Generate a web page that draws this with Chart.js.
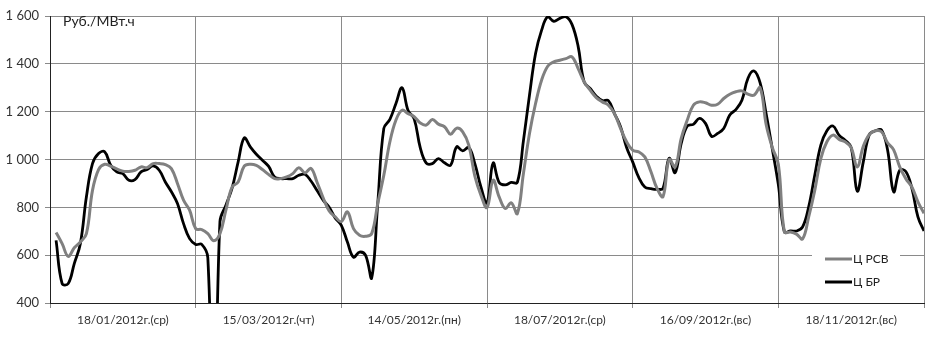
<!DOCTYPE html>
<html lang="ru">
<head>
  <meta charset="UTF-8">
  <title>Цены РСВ и БР</title>
  <script src="https://cdn.jsdelivr.net/npm/chart.js"></script>
  <style>
    html, body {
      margin: 0;
      padding: 0;
      background: #fff;
    }

    .wrap {
      width: 929px;
      height: 341px;
    }
  </style>
</head>
<body>
  <div class="wrap">
    <canvas id="priceChart" width="929" height="341"></canvas>
  </div>

  <script>
    // подписи дней (по 24 часа на день)
    const days = ["18/01/2012г.(ср)", "15/03/2012г.(чт)", "14/05/2012г.(пн)", "18/07/2012г.(ср)", "16/09/2012г.(вс)", "18/11/2012г.(вс)"];
    const hoursPerDay = 24;

    // Ц РСВ, руб./МВт.ч
    const rsv = [
      695, 648, 595, 631, 655, 690, 871, 958, 980, 972, 961, 951, 950, 955, 969, 966, 983, 983, 979, 962, 900, 830, 788, 711,
      707, 690, 660, 690, 790, 885, 906, 972, 980, 975, 958, 938, 920, 920, 927, 941, 966, 944, 963, 905, 840, 785, 760, 740,
      781, 711, 683, 679, 690, 816, 934, 1074, 1165, 1206, 1192, 1179, 1153, 1144, 1167, 1148, 1137, 1106, 1131, 1116, 1060, 930, 851, 799,
      913, 844, 795, 819, 774, 941, 1109, 1234, 1332, 1390, 1408, 1415, 1422, 1429, 1381, 1325, 1290, 1259, 1241, 1227, 1192, 1130, 1074, 1039,
      1032, 1011, 950, 880, 845, 1000, 969, 1088, 1165, 1227, 1241, 1237, 1227, 1231, 1255, 1273, 1283, 1287, 1273, 1269, 1300, 1145, 1050, 980,
      697, 697, 688, 668, 760, 871, 1004, 1074, 1102, 1084, 1074, 1050, 969, 1055, 1105, 1120, 1116, 1070, 1040, 969, 920, 885, 823, 775
    ];

    // Ц БР, руб./МВт.ч
    const br = [
      662, 481, 481, 565, 648, 844, 983, 1025, 1032, 976, 948, 941, 913, 916, 948, 958, 973, 955, 906, 865, 816, 732, 669, 645,
      645, 590, -300, 740, 810, 880, 990, 1090, 1053, 1022, 997, 972, 927, 920, 920, 920, 934, 938, 910, 870, 830, 800, 755, 725,
      655, 592, 613, 599, 505, 816, 1130, 1168, 1234, 1300, 1205, 1170, 1050, 985, 983, 1004, 986, 976, 1053, 1036, 1050, 983, 885, 818,
      985, 904, 894, 904, 904, 1078, 1269, 1443, 1541, 1597, 1578, 1590, 1597, 1565, 1475, 1325, 1297, 1265, 1246, 1246, 1192, 1137, 1050, 990,
      925, 885, 878, 875, 880, 1005, 945, 1067, 1140, 1147, 1172, 1151, 1097, 1109, 1130, 1186, 1209, 1248, 1340, 1370, 1320, 1190, 1045, 895,
      697, 701, 701, 718, 802, 934, 1060, 1120, 1140, 1102, 1081, 1050, 868, 990, 1105, 1120, 1123, 1040, 865, 955, 950, 880, 760, 701
    ];

    const yTicks = [400, 600, 800, 1000, 1200, 1400, 1600];
    const unitLabel = "Руб./МВт.ч";
    const seriesNames = ["Ц РСВ", "Ц БР"];

    const toPoints = arr => arr.map((v, i) => ({ x: i + 1, y: v }));
    const fontFamily = "Lato, 'Liberation Sans', sans-serif";

    // подпись единиц и легенда внутри области графика
    const overlay = {
      id: "overlay",
      afterDraw(chart) {
        const c = chart.ctx;
        const area = chart.chartArea;
        c.save();
        c.fillStyle = "#222";
        c.font = "14px " + fontFamily;
        c.textBaseline = "middle";
        c.fillText(unitLabel, area.left + 13, 21);

        c.fillStyle = "#fff";
        c.fillRect(812, 247, 88, 46);
        c.font = "12px " + fontFamily;
        chart.data.datasets.forEach((ds, i) => {
          const y = 259 + i * 23;
          c.strokeStyle = ds.borderColor;
          c.lineWidth = 3;
          c.beginPath();
          c.moveTo(825, y);
          c.lineTo(852, y);
          c.stroke();
          c.fillStyle = "#222";
          c.fillText(ds.label, 853, y);
        });
        c.restore();
      }
    };

    const ctx = document.getElementById("priceChart").getContext("2d");
    const priceChart = new Chart(ctx, {
      type: "line",
      data: {
        datasets: [
          {
            label: seriesNames[0],
            data: toPoints(rsv),
            borderColor: "#808080",
            borderWidth: 3,
            pointRadius: 0,
            tension: 0.4
          },
          {
            label: seriesNames[1],
            data: toPoints(br),
            borderColor: "#000",
            borderWidth: 2.8,
            pointRadius: 0,
            tension: 0.4
          }
        ]
      },
      options: {
        responsive: false,
        animation: false,
        layout: { padding: { top: 16, right: 5, left: 0, bottom: 0 } },
        plugins: {
          legend: { display: false },
          tooltip: { enabled: false }
        },
        scales: {
          x: {
            type: "linear",
            min: 0,
            max: days.length * hoursPerDay,
            afterBuildTicks: scale => {
              const t = [];
              for (let v = 0; v <= days.length * hoursPerDay; v += hoursPerDay / 2) t.push({ value: v });
              scale.ticks = t;
            },
            afterFit: scale => { scale.height = 38; },
            ticks: {
              autoSkip: false,
              maxRotation: 0,
              padding: 5,
              color: "#333",
              font: { family: fontFamily, size: 12 },
              callback: v => (v % hoursPerDay === hoursPerDay / 2 ? days[(v - hoursPerDay / 2) / hoursPerDay] : "")
            },
            grid: {
              color: c => (c.tick && c.tick.value % hoursPerDay === 0 ? "#8a8a8a" : "rgba(0,0,0,0)"),
              tickLength: 5
            },
            border: { color: "#222", width: 1 }
          },
          y: {
            min: 400,
            max: 1600,
            afterBuildTicks: scale => { scale.ticks = yTicks.map(v => ({ value: v })); },
            afterFit: scale => { scale.width = 50; },
            ticks: {
              color: "#333",
              font: { family: fontFamily, size: 13 },
              padding: 6,
              callback: v => (v >= 1000 ? Math.floor(v / 1000) + " " + String(v % 1000).padStart(3, "0") : String(v))
            },
            grid: { color: "#8a8a8a", tickLength: 5 },
            border: { color: "#222", width: 1 }
          }
        }
      },
      plugins: [overlay]
    });
  </script>
</body>
</html>
